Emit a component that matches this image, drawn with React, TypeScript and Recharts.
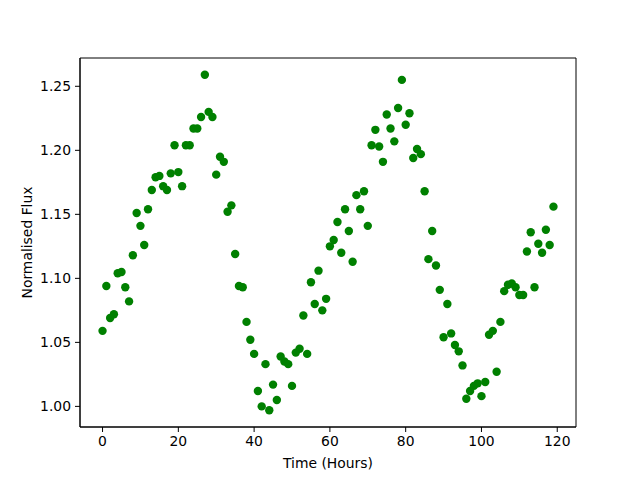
import React from "react";
import {
  ScatterChart,
  Scatter,
  XAxis,
  YAxis,
  ReferenceArea,
} from "recharts";

const hours = [
  0, 1, 2, 3, 4, 5, 6, 7, 8, 9, 10, 11, 12, 13, 14, 15, 16, 17, 18, 19,
  20, 21, 22, 23, 24, 25, 26, 27, 28, 29, 30, 31, 32, 33, 34, 35, 36, 37, 38, 39,
  40, 41, 42, 43, 44, 45, 46, 47, 48, 49, 50, 51, 52, 53, 54, 55, 56, 57, 58, 59,
  60, 61, 62, 63, 64, 65, 66, 67, 68, 69, 70, 71, 72, 73, 74, 75, 76, 77, 78, 79,
  80, 81, 82, 83, 84, 85, 86, 87, 88, 89, 90, 91, 92, 93, 94, 95, 96, 97, 98, 99,
  100, 101, 102, 103, 104, 105, 106, 107, 108, 109, 110, 111, 112, 113, 114, 115, 116, 117, 118, 119,
];

const flux = [
  1.059, 1.094, 1.069, 1.072, 1.104, 1.105, 1.093, 1.082, 1.118, 1.151,
  1.141, 1.126, 1.154, 1.169, 1.179, 1.18, 1.172, 1.169, 1.182, 1.204,
  1.183, 1.172, 1.204, 1.204, 1.217, 1.217, 1.226, 1.259, 1.23, 1.226,
  1.181, 1.195, 1.191, 1.152, 1.157, 1.119, 1.094, 1.093, 1.066, 1.052,
  1.041, 1.012, 1.0, 1.033, 0.997, 1.017, 1.005, 1.039, 1.035, 1.033,
  1.016, 1.042, 1.045, 1.071, 1.041, 1.097, 1.08, 1.106, 1.075, 1.084,
  1.125, 1.13, 1.144, 1.12, 1.154, 1.137, 1.113, 1.165, 1.154, 1.168,
  1.141, 1.204, 1.216, 1.203, 1.191, 1.228, 1.217, 1.207, 1.233, 1.255,
  1.22, 1.229, 1.194, 1.201, 1.197, 1.168, 1.115, 1.137, 1.11, 1.091,
  1.054, 1.08, 1.057, 1.048, 1.043, 1.032, 1.006, 1.012, 1.016, 1.018,
  1.008, 1.019, 1.056, 1.059, 1.027, 1.066, 1.09, 1.095, 1.096, 1.093,
  1.087, 1.087, 1.121, 1.136, 1.093, 1.127, 1.12, 1.138, 1.126, 1.156,
];

const xTicks = [0, 20, 40, 60, 80, 100, 120];
const yTicks = [1.0, 1.05, 1.1, 1.15, 1.2, 1.25];

const data = hours.map((h, i) => ({ hour: h, flux: flux[i] }));

// matplotlib-style 5% auto margins
function padded(arr: number[]): [number, number] {
  const lo = Math.min(...arr);
  const hi = Math.max(...arr);
  const pad = (hi - lo) * 0.05;
  return [lo - pad, hi + pad];
}

const xDomain = padded(hours);
const yDomain = padded(flux);

const FONT = "DejaVu Sans, sans-serif";
const tickStyle = { fill: "#000", fontSize: 13.9, fontFamily: FONT };

export default function App() {
  return (
    <div style={{ position: "absolute", left: 0, top: 0, width: 640, height: 480, background: "#fff" }}>
      <ScatterChart
        width={640}
        height={480}
        margin={{ top: 58, right: 64, bottom: 0, left: 0 }}
      >
        <XAxis
          dataKey="hour"
          type="number"
          domain={xDomain}
          allowDataOverflow
          ticks={xTicks}
          height={53}
          tickSize={5}
          tickMargin={4}
          tick={tickStyle}
          stroke="#000"
          label={(props: any) => {
            const vb = props.viewBox;
            return (
              <text
                x={vb.x + vb.width / 2}
                y={vb.y + 41}
                textAnchor="middle"
                fontSize={13.9}
                fontFamily={FONT}
                fill="#000"
              >
                Time (Hours)
              </text>
            );
          }}
        />
        <YAxis
          dataKey="flux"
          type="number"
          domain={yDomain}
          allowDataOverflow
          ticks={yTicks}
          width={80}
          tickSize={5}
          tickMargin={4}
          tick={tickStyle}
          tickFormatter={(v: number) => v.toFixed(2)}
          stroke="#000"
          label={(props: any) => {
            const vb = props.viewBox;
            const cx = vb.x + 32;
            const cy = vb.y + vb.height / 2;
            return (
              <text
                x={cx}
                y={cy}
                textAnchor="middle"
                fontSize={13.9}
                fontFamily={FONT}
                fill="#000"
                transform={`rotate(-90 ${cx} ${cy})`}
              >
                Normalised Flux
              </text>
            );
          }}
        />
        <ReferenceArea
          x1={xDomain[0]}
          x2={xDomain[1]}
          y1={yDomain[0]}
          y2={yDomain[1]}
          fill="none"
          stroke="#000"
          strokeWidth={1}
        />
        <Scatter
          data={data}
          isAnimationActive={false}
          shape={(p: any) => <circle cx={p.cx} cy={p.cy} r={4.2} fill="#008000" />}
        />
      </ScatterChart>
    </div>
  );
}
